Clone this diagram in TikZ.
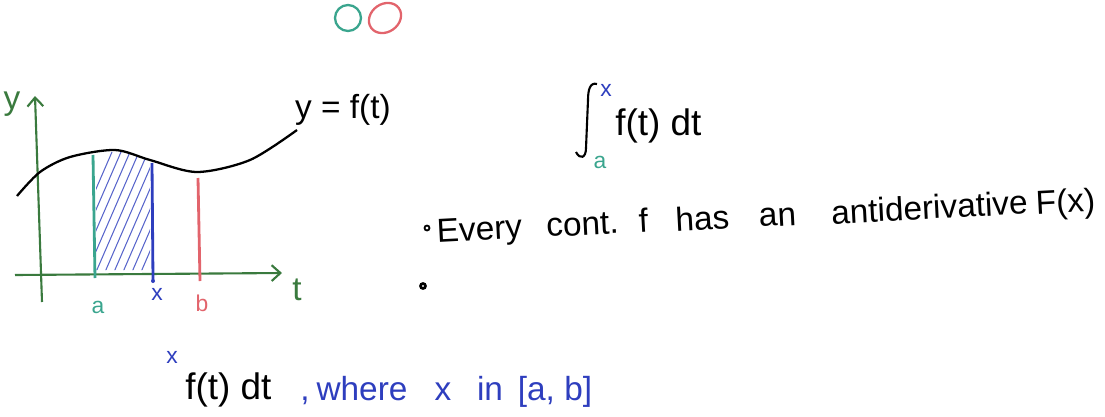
\documentclass[tikz,border=0pt]{standalone}
\usepackage{fontspec}
\setmainfont{Liberation Sans}
\usetikzlibrary{arrows.meta, positioning}

\definecolor{axisgreen}{HTML}{3A7A3E}
\definecolor{tealpen}{HTML}{3AA58E}
\definecolor{bluepen}{HTML}{2E3EBE}
\definecolor{redpen}{HTML}{E2646C}

\tikzset{
  axis/.style={axisgreen, line width=1.2pt, -{Straight Barb[length=5pt, width=9pt]}},
  mark line/.style={line width=1.6pt},
  hand/.style={font=\fontsize{19}{21}\selectfont, inner sep=0pt},
  big hand/.style={font=\fontsize{21}{23}\selectfont, inner sep=0pt},
  small hand/.style={font=\fontsize{13}{15}\selectfont, inner sep=0pt}
}

\begin{document}
\begin{tikzpicture}[x=0.02cm, y=-0.02cm]

\useasboundingbox (0,0) rectangle (1105,416);

% ---- Colour swatches ----
\draw[tealpen, line width=1.3pt] (348,18) circle [radius=13];
\draw[redpen, line width=1.3pt, rotate around={35:(385,18)}] (385,18) ellipse [x radius=17, y radius=14];

% ---- Axes ----
\draw[axis] (42,302) -- (35,96);
\node[hand, axisgreen] (ylab) at (12,104) {y};
\draw[axis] (15,275) -- (282,273);
\node[hand, axisgreen] (tlab) at (297,290) {t};

% ---- Hatched area from a to x ----
\begin{scope}
  \clip (96,160) -- plot[smooth] coordinates {(96,152) (115,150) (150,160)} -- (150,270) -- (96,270) -- cycle;
  \foreach \i in {0,...,11}
    \draw[bluepen!80, line width=0.6pt] (60+\i*9,272) -- (112+\i*9,152);
\end{scope}

% ---- Curve y = f(t) ----
\draw[line width=1.3pt] plot[smooth] coordinates
  {(17,196) (40,172) (70,157) (115,150) (150,160) (197,172) (250,160) (297,130)};
\node[hand] (flab) at (343,110) {y = f(t)};

% ---- Vertical markers ----
\draw[tealpen, mark line] (93,155) -- (95,278);
\node[small hand, tealpen] (alab) at (98,307) {a};
\draw[bluepen, mark line] (152,163) -- (153,280);
\fill[bluepen] (153,281) circle [radius=2];
\node[small hand, bluepen] (xlab) at (157,294) {x};
\draw[redpen, mark line] (198,178) -- (200,281);
\node[small hand, redpen] (blab) at (202,303) {b};

% ---- Integral ----
\draw[line width=1.2pt] (597,84) .. controls (590,82) and (588,90) .. (588,100)
  -- (586,148) .. controls (586,158) and (580,160) .. (576,152);
\node[small hand, bluepen] (upper) at (606,90) {x};
\node[small hand, tealpen] (lower) at (600,162) {a};
\node[big hand, anchor=west] (integrand) at (615,126) {f(t) dt};

% ---- Bullets ----
\draw[line width=1pt] (427,228) circle [radius=2.5];
\foreach \word/\xpos/\ypos [count=\k] in {Every/480/240, cont./583/235, f/644/232,
    has/703/230, an/778/226, antiderivative/930/219, F(x)/1066/213}
  \node[hand, anchor=base, rotate=3] (word\k) at (\xpos,\ypos) {\word};
\draw[line width=1.5pt] (423,286) circle [radius=2.5];

% ---- Bottom line ----
\node[small hand, bluepen] (xtop) at (172,357) {x};
\node[big hand, anchor=base west] (bottomint) at (185,399) {f(t) dt};
\foreach \word/\xpos [count=\k] in {{,}/305, where/362, x/443, in/490, {[a, b]}/555}
  \node[hand, bluepen, anchor=base] (where\k) at (\xpos,400) {\word};

\end{tikzpicture}
\end{document}
